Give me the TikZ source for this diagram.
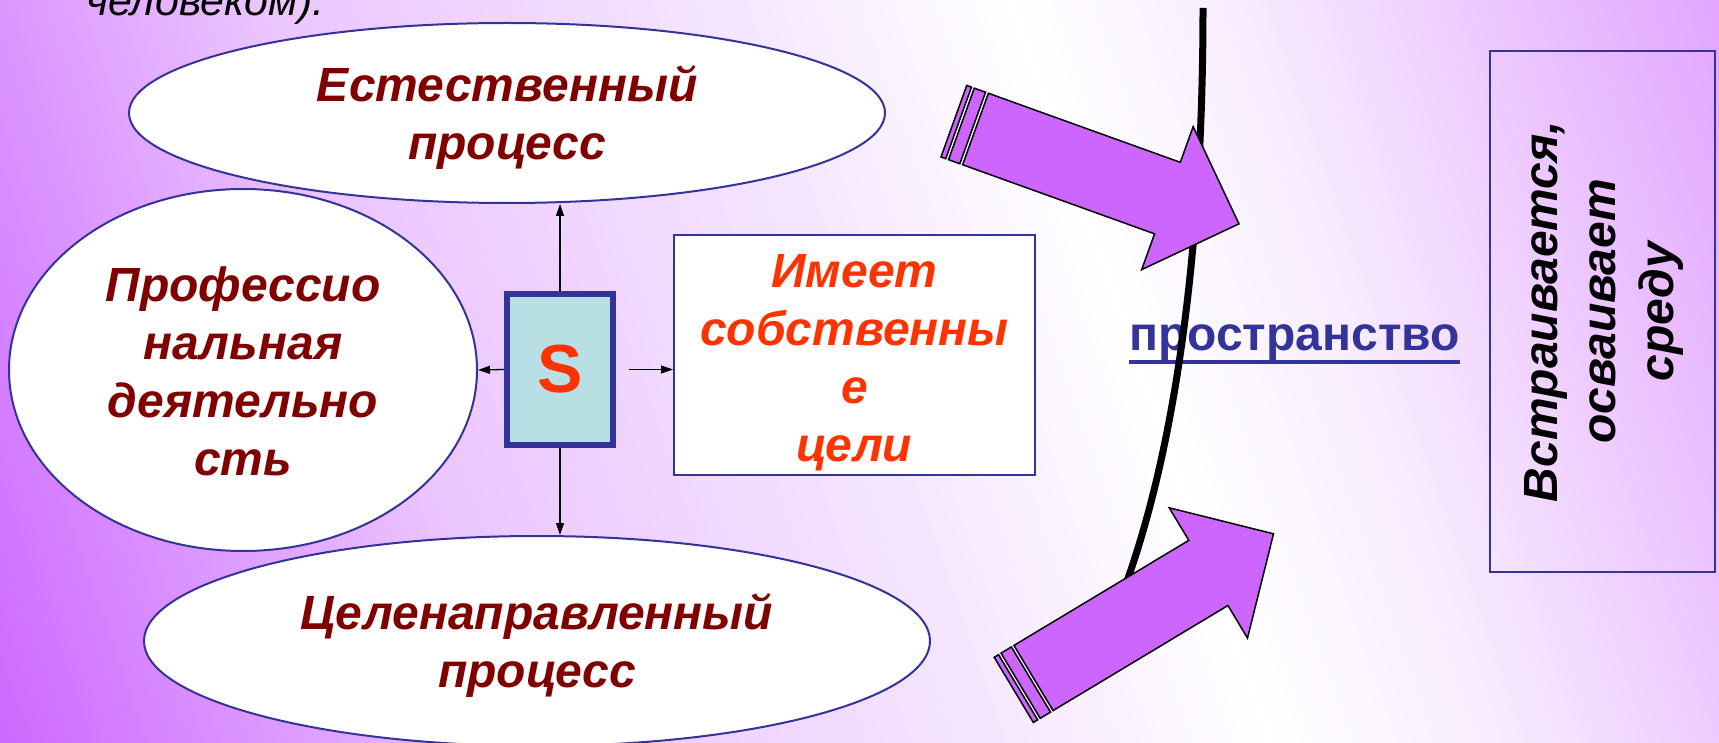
\documentclass[tikz,border=0pt]{standalone}
\usepackage{fontspec}
\setmainfont{Liberation Sans}
\usetikzlibrary{arrows.meta,shapes.geometric}
\definecolor{bord}{HTML}{333399}
\definecolor{maroonc}{HTML}{800000}
\definecolor{redor}{HTML}{FF3300}
\definecolor{sfill}{HTML}{B8DFE3}
\definecolor{arrowpurple}{HTML}{CC66FF}
\pgfdeclarehorizontalshading{bgshade}{100bp}{rgb(0bp)=(0.8,0.4,1); rgb(18bp)=(0.8,0.4,1); rgb(35bp)=(0.922,0.773,1); rgb(50bp)=(0.961,0.902,1); rgb(59bp)=(1,1,1); rgb(66bp)=(0.973,0.929,1); rgb(82bp)=(0.886,0.643,1); rgb(100bp)=(0.886,0.643,1)}
\tikzset{
  ell/.style={ellipse, draw=bord, line width=2pt, fill=white, inner sep=0pt},
  bigfont/.style={font=\fontsize{48}{58}\selectfont\bfseries\itshape, align=center, inner sep=0pt},
  etext/.style={bigfont, text=maroonc},
  conn/.style={line width=1.3pt, -{Triangle[length=12pt,width=8pt]}},
  arrowfill/.style={fill=arrowpurple, draw=black, line width=1.5pt, line join=miter},
  striparrow/.pic={
    \filldraw[arrowfill] (0,-38) -- (204,-38) -- (204,-76) -- (280,0) -- (204,76) -- (204,38) -- (0,38) -- cycle;
    \filldraw[arrowfill] (-15,-38) rectangle (-3,38);
    \filldraw[arrowfill] (-23,-38) rectangle (-18,38);
  }
}
\begin{document}
\begin{tikzpicture}[x=1pt,y=-1pt]
\useasboundingbox (0,0) rectangle (1719,743);
\clip (0,0) rectangle (1719,743);
\shade[shading=bgshade, shading angle=19.33] (0,0) rectangle (1719,743);

\node[anchor=base west, inner sep=0pt, font=\fontsize{43}{52}\selectfont\itshape] (top) at (86,16) {человеком).};

\node[ell, minimum width=756pt, minimum height=180pt] (e1) at (507,113) {};
\node[etext] (t1) at (507,117.5) {Естественный\\процесс};
\node[ell, minimum width=468pt, minimum height=362pt] (e2) at (243,370) {};
\node[etext] (t2) at (243,371) {Профессио\\нальная\\деятельно\\сть};
\node[ell, minimum width=786pt, minimum height=210pt] (e3) at (537,641) {};
\node[etext] (t3) at (537,645.5) {Целенаправленный\\процесс};

\node[draw=bord, line width=6pt, fill=sfill, minimum width=106pt, minimum height=151pt, inner sep=0pt, font=\fontsize{68}{76}\selectfont\bfseries, text=redor] (S) at (560,369.5) {S};

\node[draw=bord, line width=2pt, fill=white, minimum width=361pt, minimum height=240pt, inner sep=0pt] (goal) at (854.5,355) {};
\node[bigfont, text=redor] (goaltext) at (854.5,363) {Имеет\\собственны\\е\\цели};

\node[draw=bord, line width=2pt, minimum width=225pt, minimum height=521pt, inner sep=0pt] (env) at (1602.5,311.5) {};
\node[bigfont, text=black, rotate=90] (envtext) at (1604,311.5) {Встраивается,\\осваивает\\среду};

\draw[conn] (S.north) -- (S.north |- e1.south);
\draw[conn] (S.south) -- (S.south |- e3.north);
\draw[conn] (S.west) -- (e2.east);
\draw[conn] ([xshift=13pt]S.east) -- (S.east -| goal.west);

\node[anchor=base west, inner sep=0pt, font=\fontsize{48}{58}\selectfont\bfseries, text=bord] (space) at (1129,350) {пространство};
\draw[bord, line width=4pt] ([yshift=-12pt]space.base west) -- ([yshift=-12pt]space.base east);

\draw[line width=7pt] (1203,8) .. controls (1203,250) and (1175,470) .. (1112,620);

\pic[rotate=-19.8] at (975.5,129) {striparrow};
\pic[rotate=31] at (1033.5,678) {striparrow};
\end{tikzpicture}
\end{document}
